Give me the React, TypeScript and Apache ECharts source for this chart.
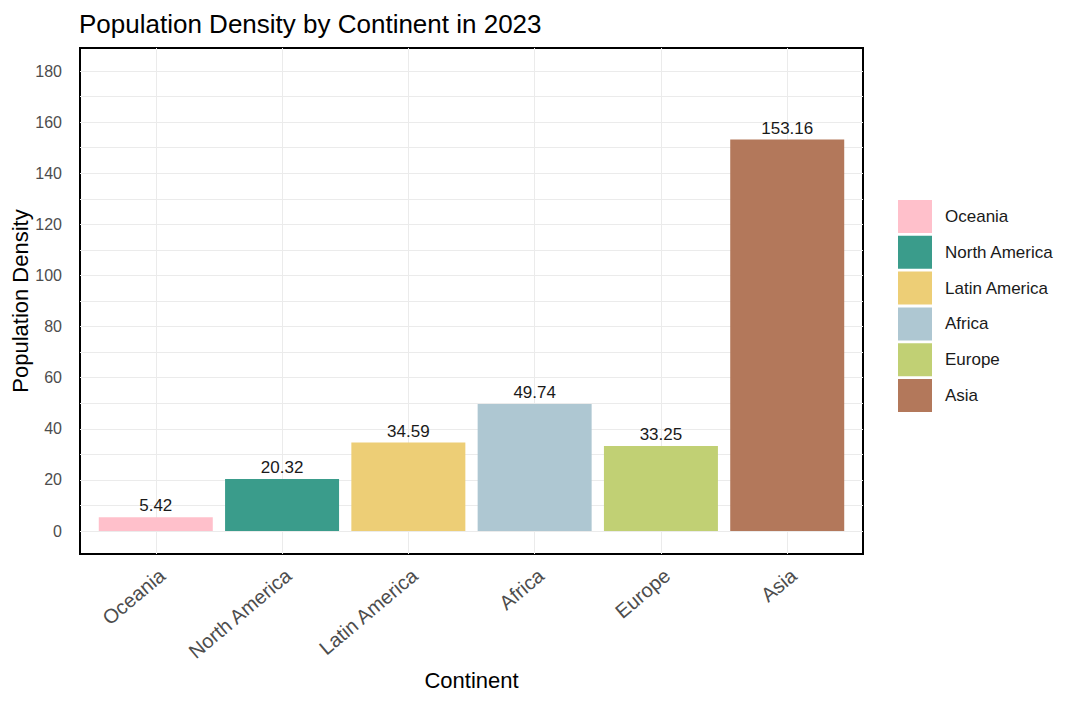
import React, { useEffect, useRef } from "react";
import * as echarts from "echarts";

const categories = ["Oceania", "North America", "Latin America", "Africa", "Europe", "Asia"];
const densities = [5.42, 20.32, 34.59, 49.74, 33.25, 153.16];
const barColors = ["#FFC0CB", "#3A9C8B", "#EDCE76", "#AEC7D2", "#C1D074", "#B3785B"];
const yLabelTicks = [0, 20, 40, 60, 80, 100, 120, 140, 160, 180];
const yGridTicks = [0, 10, 20, 30, 40, 50, 60, 70, 80, 90, 100, 110, 120, 130, 140, 150, 160, 170, 180];
const xPositions = categories.map((_, i) => i + 1);

const FONT = '"Liberation Sans", Arial, sans-serif';

export default function App() {
  const ref = useRef<HTMLDivElement>(null);
  useEffect(() => {
    if (!ref.current) return;
    const chart = echarts.init(ref.current, null, { renderer: "svg" });
    const series = categories.map((name, i) => ({
      name,
      type: "bar",
      data: [[xPositions[i], densities[i]]],
      barWidth: 114,
      barGap: "-100%",
      itemStyle: { color: barColors[i] },
      label: {
        show: true,
        position: "top",
        distance: 3,
        color: "#1A1A1A",
        fontSize: 17,
        fontFamily: FONT,
        formatter: (p: any) => Number(p.value[1]).toFixed(2),
      },
    }));
    chart.setOption({
      animation: false,
      textStyle: { fontFamily: FONT },
      title: {
        text: "Population Density by Continent in 2023",
        left: 74,
        top: 6,
        textStyle: { fontSize: 26, fontWeight: "normal", color: "#000", fontFamily: FONT },
      },
      legend: {
        orient: "vertical",
        left: 893,
        top: 195,
        itemWidth: 34,
        itemHeight: 33,
        itemGap: 2.8,
        icon: "rect",
        data: categories,
        textStyle: { fontSize: 17, color: "#1A1A1A", fontFamily: FONT, padding: [0, 0, 0, 8] },
      },
      grid: {
        left: 80,
        top: 48,
        width: 783,
        height: 506,
        show: true,
        borderColor: "#000",
        borderWidth: 2,
        backgroundColor: "transparent",
        containLabel: false,
        outerBoundsMode: "none",
      },
      xAxis: {
        type: "value",
        min: 0.4,
        max: 6.6,
        name: "Continent",
        nameLocation: "middle",
        nameGap: 115,
        nameMoveOverlap: false,
        nameTextStyle: { fontSize: 22, color: "#000", fontFamily: FONT },
        axisLine: { show: false, onZero: false },
        axisTick: { show: false, customValues: xPositions },
        axisLabel: {
          customValues: xPositions,
          rotate: 40,
          margin: 11,
          verticalAlign: "top",
          align: "right",
          fontSize: 20,
          color: "#4D4D4D",
          fontFamily: FONT,
          formatter: (v: number) => categories[Math.round(v) - 1] ?? "",
        },
        splitLine: { show: true, lineStyle: { color: "#EBEBEB", width: 1 } },
      },
      yAxis: {
        type: "value",
        min: -9,
        max: 189,
        name: "Population Density",
        nameLocation: "middle",
        nameGap: 49,
        nameMoveOverlap: false,
        nameTextStyle: { fontSize: 22, color: "#000", fontFamily: FONT },
        axisLine: { show: false },
        axisTick: { show: false, customValues: yGridTicks },
        axisLabel: {
          customValues: yLabelTicks,
          margin: 18,
          fontSize: 16,
          color: "#4D4D4D",
          fontFamily: FONT,
        },
        splitLine: { show: true, lineStyle: { color: "#EBEBEB", width: 1 } },
      },
      series,
    });
    return () => chart.dispose();
  }, []);
  return (
    <div
      ref={ref}
      style={{ position: "fixed", left: 0, top: 0, width: 1080, height: 704, background: "#fff" }}
    />
  );
}
